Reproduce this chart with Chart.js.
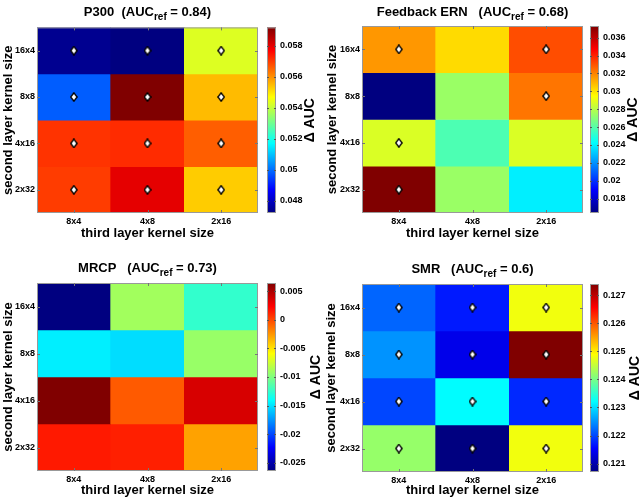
<!DOCTYPE html>
<html>
<head>
<meta charset="utf-8">
<script src="https://cdn.jsdelivr.net/npm/chart.js@4.4.0/dist/chart.umd.min.js"></script>
<style>
  body { margin: 0; background: #fff; }
  #wrap { position: relative; width: 640px; height: 499px; }
  canvas { position: absolute; }
</style>
</head>
<body>
<div id="wrap">
  <canvas id="p300" width="320" height="250" style="left:0;top:0"></canvas>
  <canvas id="ern" width="320" height="250" style="left:320px;top:0"></canvas>
  <canvas id="mrcp" width="320" height="249" style="left:0;top:250px"></canvas>
  <canvas id="smr" width="320" height="249" style="left:320px;top:250px"></canvas>
</div>
<script>
// kernel sizes
const colLabels = ['8x4', '4x8', '2x16'];            // third layer
const rowLabels = ['16x4', '8x8', '4x16', '2x32'];   // second layer, top to bottom

// delta AUC per cell, rows top to bottom
const p300Values = [
  [0.0474, 0.0472, 0.0543],
  [0.0498, 0.0592, 0.0555],
  [0.0571, 0.0572, 0.0566],
  [0.0570, 0.0580, 0.0553]
];
const p300Marks = [[1, 1, 1], [1, 1, 1], [1, 1, 1], [1, 1, 1]];
const p300Ticks = [0.048, 0.05, 0.052, 0.054, 0.056, 0.058];
const p300Title = ['P300  (AUC', 'ref', ' = 0.84)'];

const ernValues = [
  [0.0316, 0.0302, 0.0331],
  [0.0164, 0.0274, 0.0323],
  [0.0287, 0.0258, 0.0287],
  [0.0373, 0.0274, 0.0239]
];
const ernMarks = [[1, 0, 1], [0, 0, 1], [1, 0, 0], [1, 0, 0]];
const ernTicks = [0.018, 0.02, 0.022, 0.024, 0.026, 0.028, 0.03, 0.032, 0.034, 0.036];
const ernTitle = ['Feedback ERN   (AUC', 'ref', ' = 0.68)'];

const mrcpValues = [
  [-0.0264, -0.0089, -0.0125],
  [-0.0146, -0.0152, -0.0092],
  [0.0064, -0.0006, 0.0036],
  [0.0015, 0.0013, -0.0029]
];
const mrcpMarks = [[0, 0, 0], [0, 0, 0], [0, 0, 0], [0, 0, 0]];
const mrcpTicks = [-0.025, -0.02, -0.015, -0.01, -0.005, 0, 0.005];
const mrcpTitle = ['MRCP   (AUC', 'ref', ' = 0.73)'];

const smrValues = [
  [0.1222, 0.1217, 0.1248],
  [0.1225, 0.1214, 0.1274],
  [0.1220, 0.1232, 0.1218],
  [0.1242, 0.1207, 0.1248]
];
const smrMarks = [[1, 1, 1], [1, 1, 1], [1, 1, 1], [1, 1, 1]];
const smrTicks = [0.121, 0.122, 0.123, 0.124, 0.125, 0.126, 0.127];
const smrTitle = ['SMR   (AUC', 'ref', ' = 0.6)'];

const FAMILY = '"Liberation Sans", Arial, Helvetica, sans-serif';
Chart.defaults.font.family = FAMILY;
Chart.defaults.color = '#000';

// matlab jet colormap
function jet(t) {
  t = Math.max(0, Math.min(1, t));
  const c = k => Math.round(255 * Math.max(0, Math.min(1, 1.5 - Math.abs(4 * t - k))));
  return `rgb(${c(3)},${c(2)},${c(1)})`;
}

// diamond marker
const diamond = document.createElement('canvas');
diamond.width = 8;
diamond.height = 10;
(function () {
  const c = diamond.getContext('2d');
  c.beginPath();
  c.moveTo(4, 0.8);
  c.lineTo(7.2, 5);
  c.lineTo(4, 9.2);
  c.lineTo(0.8, 5);
  c.closePath();
  c.fillStyle = '#fff';
  c.fill();
  c.lineWidth = 1.4;
  c.strokeStyle = '#000';
  c.stroke();
})();

const panelDeco = {
  id: 'panelDeco',
  afterDatasetsDraw(chart, args, o) {
    const ctx = chart.ctx;
    const a = chart.chartArea;
    const xs = chart.scales.x, ys = chart.scales.y, cs = chart.scales.y2;
    ctx.save();

    // axes box + inward ticks
    ctx.strokeStyle = '#999';
    ctx.lineWidth = 1;
    ctx.strokeRect(a.left + 0.5, a.top + 0.5, a.right - a.left - 1, a.bottom - a.top - 1);
    ctx.strokeStyle = '#777';
    ctx.beginPath();
    colLabels.forEach((_, j) => {
      const px = Math.round(xs.getPixelForValue(j)) + 0.5;
      ctx.moveTo(px, a.bottom); ctx.lineTo(px, a.bottom - 3);
      ctx.moveTo(px, a.top); ctx.lineTo(px, a.top + 3);
    });
    rowLabels.forEach((_, i) => {
      const py = Math.round(ys.getPixelForValue(rowLabels.length - 0.5 - i)) + 0.5;
      ctx.moveTo(a.left, py); ctx.lineTo(a.left + 3, py);
      ctx.moveTo(a.right, py); ctx.lineTo(a.right - 3, py);
    });
    ctx.stroke();

    // colorbar
    const g = ctx.createLinearGradient(0, a.bottom, 0, a.top);
    [[0, '#000080'], [0.125, '#0000ff'], [0.375, '#00ffff'], [0.625, '#ffff00'], [0.875, '#ff0000'], [1, '#800000']]
      .forEach(s => g.addColorStop(s[0], s[1]));
    ctx.fillStyle = g;
    ctx.fillRect(o.cbar[0], a.top, o.cbar[1] - o.cbar[0], a.bottom - a.top);
    ctx.strokeStyle = '#999';
    ctx.strokeRect(o.cbar[0] + 0.5, a.top + 0.5, o.cbar[1] - o.cbar[0] - 1, a.bottom - a.top - 1);
    ctx.strokeStyle = '#555';
    ctx.beginPath();
    o.ticks.forEach(v => {
      const py = Math.round(cs.getPixelForValue(v)) + 0.5;
      ctx.moveTo(o.cbar[0], py); ctx.lineTo(o.cbar[0] + 2, py);
      ctx.moveTo(o.cbar[1], py); ctx.lineTo(o.cbar[1] - 2, py);
    });
    ctx.stroke();

    // title with subscript
    ctx.fillStyle = '#000';
    ctx.textBaseline = 'alphabetic';
    ctx.textAlign = 'left';
    const big = `bold 13px ${FAMILY}`, small = `bold 10px ${FAMILY}`;
    ctx.font = big;
    const w1 = ctx.measureText(o.title[0]).width;
    const w3 = ctx.measureText(o.title[2]).width;
    ctx.font = small;
    const w2 = ctx.measureText(o.title[1]).width;
    let x = (a.left + a.right) / 2 - (w1 + w2 + w3) / 2;
    ctx.font = big;
    ctx.fillText(o.title[0], x, o.titleY);
    ctx.font = small;
    ctx.fillText(o.title[1], x + w1, o.titleY + 4);
    ctx.font = big;
    ctx.fillText(o.title[2], x + w1 + w2, o.titleY);

    // colorbar label
    ctx.translate(o.deltaX, (a.top + a.bottom) / 2);
    ctx.rotate(-Math.PI / 2);
    ctx.textAlign = 'center';
    ctx.textBaseline = 'middle';
    ctx.font = `bold 14px ${FAMILY}`;
    ctx.fillText('\u0394 AUC', 0, 0);
    ctx.restore();
  }
};

function makePanel(id, values, marks, ticks, title, geo) {
  const all = values.flat();
  const lo = Math.min(...all), hi = Math.max(...all);
  const n = rowLabels.length;
  const tickFont = { size: 9, weight: 'bold' };
  const labelFont = { size: 13, weight: 'bold' };

  const datasets = values.map((row, i) => ({
    type: 'bar',
    data: row.map(() => [n - 1 - i, n - i]),
    backgroundColor: row.map(v => jet((v - lo) / (hi - lo))),
    borderWidth: 0,
    barPercentage: 1,
    categoryPercentage: 1,
    grouped: false,
    order: 1
  }));

  const pts = [];
  marks.forEach((row, i) => row.forEach((m, j) => {
    if (m) pts.push({ x: colLabels[j], y: n - 0.5 - i });
  }));
  datasets.push({ type: 'scatter', data: pts, pointStyle: diamond, order: 0 });

  return new Chart(document.getElementById(id), {
    type: 'bar',
    data: { labels: colLabels, datasets: datasets },
    plugins: [panelDeco],
    options: {
      responsive: false,
      animation: false,
      events: [],
      layout: { autoPadding: false, padding: { left: 0, right: 0, top: geo.plot.t, bottom: 0 } },
      plugins: {
        legend: { display: false },
        tooltip: { enabled: false },
        panelDeco: { cbar: geo.cbar, ticks: ticks, title: title, titleY: geo.titleY, deltaX: geo.deltaX }
      },
      scales: {
        x: {
          type: 'category',
          offset: true,
          grid: { display: false, drawTicks: false },
          border: { display: false },
          ticks: { font: tickFont, color: '#000', padding: 3, maxRotation: 0 },
          title: { display: true, text: 'third layer kernel size', font: labelFont, color: '#000',
                   padding: { top: 0, bottom: geo.H - 7.8 - geo.xTitleY } },
          afterFit: s => { s.height = geo.H - geo.plot.b; }
        },
        y: {
          type: 'linear',
          min: 0,
          max: n,
          grid: { display: false, drawTicks: false },
          border: { display: false },
          afterBuildTicks: s => { s.ticks = rowLabels.map((_, i) => ({ value: n - 0.5 - i })); },
          ticks: { font: tickFont, color: '#000', padding: 2, callback: v => rowLabels[n - 0.5 - v] },
          title: { display: true, text: 'second layer kernel size', font: labelFont, color: '#000',
                   padding: { top: geo.yTitleX - 7.8, bottom: 0 } },
          afterFit: s => { s.width = geo.plot.l; }
        },
        y2: {
          type: 'linear',
          position: 'right',
          min: lo,
          max: hi,
          grid: { display: false, drawTicks: false },
          border: { display: false },
          afterBuildTicks: s => { s.ticks = ticks.map(v => ({ value: v })); },
          ticks: { font: tickFont, color: '#000', padding: geo.labelX - geo.plot.r, callback: v => String(v) },
          afterFit: s => { s.width = geo.W - geo.plot.r; }
        }
      }
    }
  });
}

makePanel('p300', p300Values, p300Marks, p300Ticks, p300Title,
  { W: 320, H: 250, plot: { l: 37, r: 258, t: 25, b: 213 }, cbar: [267, 276], labelX: 280, deltaX: 310, titleY: 16, xTitleY: 233, yTitleX: 8 });
makePanel('ern', ernValues, ernMarks, ernTicks, ernTitle,
  { W: 320, H: 250, plot: { l: 42, r: 263, t: 26, b: 213 }, cbar: [270, 279], labelX: 283, deltaX: 313, titleY: 16, xTitleY: 233, yTitleX: 12 });
makePanel('mrcp', mrcpValues, mrcpMarks, mrcpTicks, mrcpTitle,
  { W: 320, H: 249, plot: { l: 37, r: 258, t: 33, b: 221 }, cbar: [267, 276], labelX: 280, deltaX: 316, titleY: 22, xTitleY: 240, yTitleX: 8 });
makePanel('smr', smrValues, smrMarks, smrTicks, smrTitle,
  { W: 320, H: 249, plot: { l: 42, r: 263, t: 34, b: 222 }, cbar: [270, 279], labelX: 283, deltaX: 315, titleY: 23, xTitleY: 240, yTitleX: 11 });
</script>
</body>
</html>
